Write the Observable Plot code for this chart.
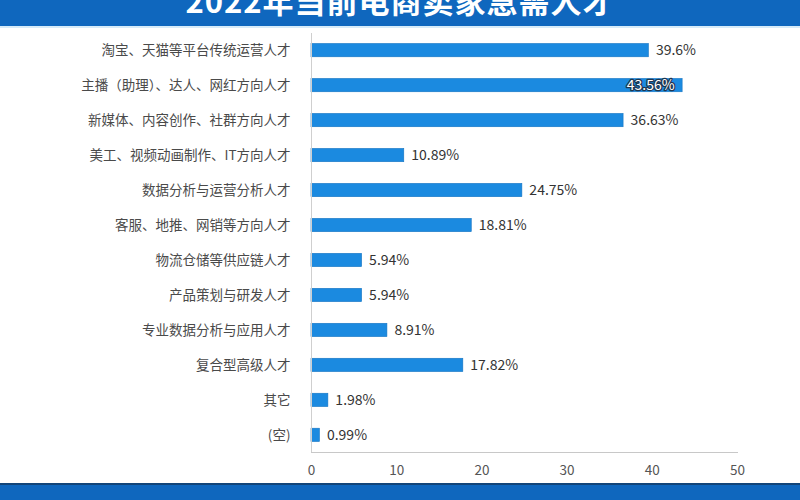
<!DOCTYPE html>
<html>
<head>
<meta charset="utf-8">
<script src="https://cdn.jsdelivr.net/npm/d3@7"></script>
<script src="https://cdn.jsdelivr.net/npm/@observablehq/plot@0.6"></script>
<style>
  html, body { margin: 0; padding: 0; background: #fff; width: 800px; height: 500px; overflow: hidden; }
  #header { position: relative; height: 26px; background: #0f67be; border-bottom: 2px solid #d6ebf9; overflow: hidden; }
  #header span { position: absolute; left: 0; right: 0; top: -16px; text-align: center; color: #fff; font: bold 31px "Noto Sans CJK SC", sans-serif; line-height: 31px; letter-spacing: 1px; }
  #footer { height: 15px; background: #0f67be; border-top: 2px solid #12457a; }
  #chart svg { display: block; }
</style>
</head>
<body>
<div id="header"><span>2022年当前电商卖家急需人才</span></div>
<div id="chart"></div>
<div id="footer"></div>
<script>
const categories = [
  "淘宝、天猫等平台传统运营人才",
  "主播（助理）、达人、网红方向人才",
  "新媒体、内容创作、社群方向人才",
  "美工、视频动画制作、IT方向人才",
  "数据分析与运营分析人才",
  "客服、地推、网销等方向人才",
  "物流仓储等供应链人才",
  "产品策划与研发人才",
  "专业数据分析与应用人才",
  "复合型高级人才",
  "其它",
  "(空)"
];
const values = [39.6, 43.56, 36.63, 10.89, 24.75, 18.81, 5.94, 5.94, 8.91, 17.82, 1.98, 0.99];
const valueLabels = ["39.6%", "43.56%", "36.63%", "10.89%", "24.75%", "18.81%", "5.94%", "5.94%", "8.91%", "17.82%", "1.98%", "0.99%"];
const xTicks = [0, 10, 20, 30, 40, 50];

const data = categories.map((c, i) => ({category: c, value: values[i], label: valueLabels[i]}));
const outside = data.filter(d => d.value !== 43.56);
const inside = data.filter(d => d.value === 43.56);

const font = "'Noto Sans CJK SC', sans-serif";

const chart = Plot.plot({
  width: 800,
  height: 455,
  marginLeft: 311,
  marginRight: 63,
  marginTop: 5,
  marginBottom: 31,
  style: {fontFamily: font, fontSize: "14px", color: "#444", background: "transparent"},
  x: {domain: [0, 50], ticks: xTicks, label: null},
  y: {domain: categories, paddingInner: 0.62, paddingOuter: 0.3, round: false, label: null},
  marks: [
    Plot.barX(data, {x: "value", y: "category", fill: "#1b8ae0", stroke: "#1675c2", strokeWidth: 0.6}),
    Plot.ruleX([0], {stroke: "#cfcfcf"}),
    Plot.frame({anchor: "bottom", stroke: "#c8c8c8"}),
    Plot.text(outside, {x: "value", y: "category", text: "label", dx: 7, textAnchor: "start", fill: "#333", fontSize: 14}),
    Plot.text(inside, {x: "value", y: "category", text: "label", dx: -8, textAnchor: "end", fill: "#fff", stroke: "#1d3550", strokeWidth: 2.5, fontSize: 14}),
    Plot.axisX({ticks: xTicks, tickSize: 0, tickPadding: 13, fontSize: 13.5, fill: "#555", label: null}),
    Plot.axisY({tickSize: 0, tickPadding: 21, fontSize: 13.5, fill: "#4a4a4a", label: null})
  ]
});
document.getElementById("chart").appendChild(chart);
</script>
</body>
</html>
